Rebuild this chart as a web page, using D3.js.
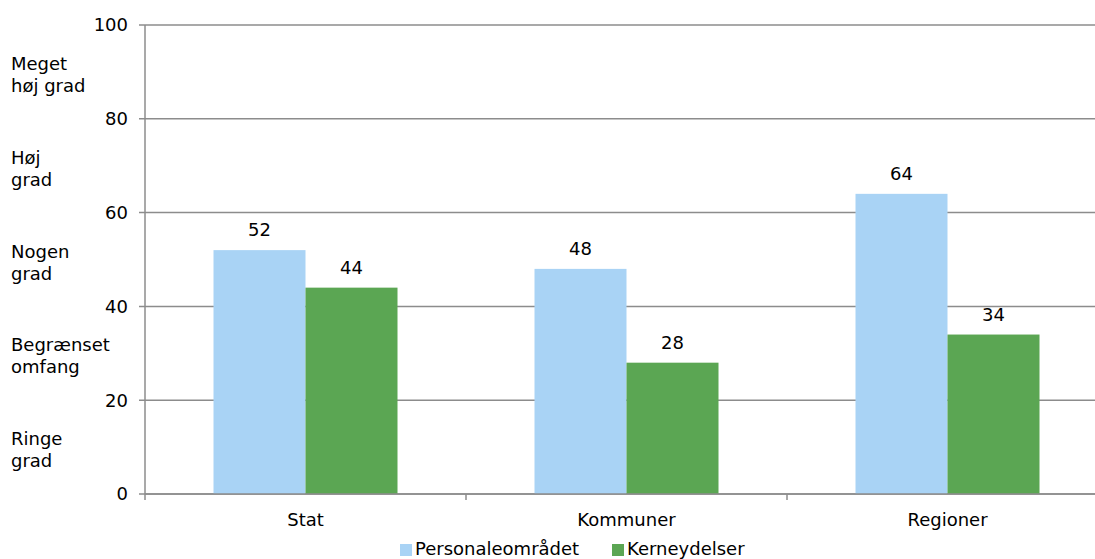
<!DOCTYPE html>
<html><head><meta charset="utf-8">
<script src="https://cdn.jsdelivr.net/npm/d3@7/dist/d3.min.js"></script>
<style>body{margin:0;background:#fff;}svg{display:block;font-family:"DejaVu Sans",Verdana,sans-serif;}</style>
</head><body>
<svg id="c" width="1095" height="559"></svg>
<script>
const categories = ["Stat", "Kommuner", "Regioner"];
const seriesNames = ["Personaleområdet", "Kerneydelser"];
const personale = [52, 48, 64];
const kerneydelser = [44, 28, 34];
const yTicks = [0, 20, 40, 60, 80, 100];
const gradeLabels = [
  {v: 90, lines: ["Meget", "høj grad"]},
  {v: 70, lines: ["Høj", "grad"]},
  {v: 50, lines: ["Nogen", "grad"]},
  {v: 30, lines: ["Begrænset", "omfang"]},
  {v: 10, lines: ["Ringe", "grad"]}
];
const colors = ["#A9D3F5", "#5BA653"];

(function(){
const svg = d3.select("#c");
const FS = 18;
const pl = 145, pr = 1108, pt = 25, pb = 494;
const y = d3.scaleLinear().domain([0, 100]).range([pb, pt]);
const x = d3.scaleBand().domain(categories).range([pl, pr]).paddingInner(0).paddingOuter(0);
const barW = 92;
const sub = d3.scaleBand().domain(seriesNames).range([0, barW * 2]);

// gridlines
svg.append("g").selectAll("line").data(yTicks).join("line")
  .attr("x1", pl - 6).attr("x2", 1095)
  .attr("y1", d => y(d)).attr("y2", d => y(d))
  .attr("stroke", "#8c8c8c").attr("stroke-width", 1.5);

// bars
const data = categories.map((c, i) => ({c, vals: [personale[i], kerneydelser[i]]}));
const g = svg.append("g");
data.forEach(d => {
  const cx = x(d.c) + x.bandwidth() / 2 - barW;
  d.vals.forEach((v, j) => {
    const bx = cx + sub(seriesNames[j]);
    g.append("rect").attr("x", bx).attr("y", y(v)).attr("width", sub.bandwidth())
      .attr("height", y(0) - y(v)).attr("fill", colors[j]);
    g.append("text").attr("x", bx + sub.bandwidth() / 2).attr("y", y(v) - 14)
      .attr("text-anchor", "middle").attr("font-size", FS).attr("fill", "#000").text(v);
  });
});

// axes lines
svg.append("line").attr("x1", pl).attr("x2", pl).attr("y1", pt).attr("y2", pb + 6)
  .attr("stroke", "#8c8c8c").attr("stroke-width", 1.5);
svg.append("line").attr("x1", pl).attr("x2", 1095).attr("y1", pb).attr("y2", pb)
  .attr("stroke", "#8c8c8c").attr("stroke-width", 1.5);
// category ticks
svg.append("g").selectAll("line").data(categories.slice(1)).join("line")
  .attr("x1", d => x(d)).attr("x2", d => x(d)).attr("y1", pb).attr("y2", pb + 6)
  .attr("stroke", "#8c8c8c").attr("stroke-width", 1.5);

// y tick labels
svg.append("g").selectAll("text").data(yTicks).join("text")
  .attr("x", 128).attr("y", d => y(d)).attr("dy", "0.35em")
  .attr("text-anchor", "end").attr("font-size", FS).attr("fill", "#000").text(d => d);

// grade labels
const gl = svg.append("g");
gradeLabels.forEach(d => {
  const t = gl.append("text").attr("x", 11).attr("y", y(d.v) - 2).attr("font-size", FS).attr("fill", "#000");
  d.lines.forEach((l, i) => t.append("tspan").attr("x", 11).attr("dy", i === 0 ? 0 : 22).text(l));
});

// category labels
svg.append("g").selectAll("text").data(categories).join("text")
  .attr("x", d => x(d) + x.bandwidth() / 2).attr("y", 526)
  .attr("text-anchor", "middle").attr("font-size", FS).attr("fill", "#000").text(d => d);

// legend
const lg = svg.append("g");
const legX = [400, 612];
seriesNames.forEach((n, i) => {
  lg.append("rect").attr("x", legX[i]).attr("y", 544).attr("width", 12).attr("height", 12).attr("fill", colors[i]);
  lg.append("text").attr("x", legX[i] + 15).attr("y", 555).attr("font-size", FS).attr("fill", "#000").text(n);
});
})();
</script>
</body></html>
